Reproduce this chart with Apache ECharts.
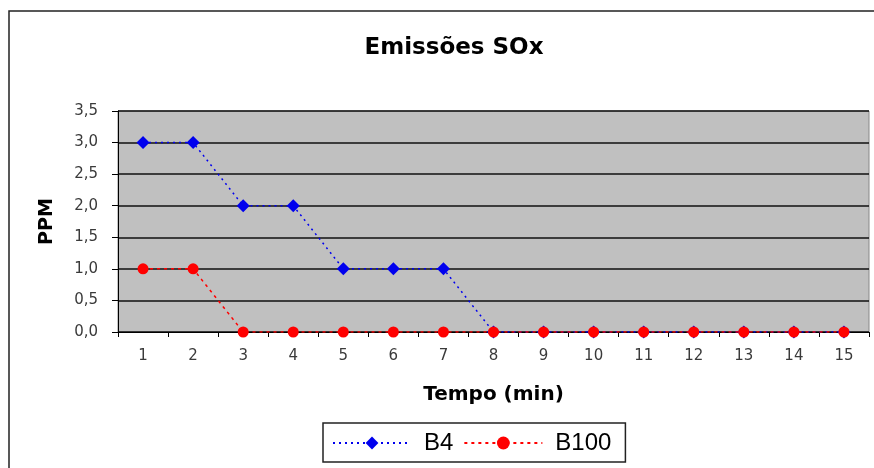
<!DOCTYPE html>
<html><head><meta charset="utf-8">
<script src="https://cdn.jsdelivr.net/npm/echarts@6/dist/echarts.min.js"></script>
<style>html,body{margin:0;padding:0;background:#fff}#c{width:874px;height:468px}</style>
</head><body><div id="c"></div>
<script>
const categories = ['1','2','3','4','5','6','7','8','9','10','11','12','13','14','15'];
const b4 = [3,3,2,2,1,1,1,0,0,0,0,0,0,0,0];
const b100 = [1,1,0,0,0,0,0,0,0,0,0,0,0,0,0];
const yTicks = [0,0.5,1,1.5,2,2.5,3,3.5];

const chart = echarts.init(document.getElementById('c'));
chart.setOption({
  animation: false,
  backgroundColor: '#fff',
  title: {
    text: 'Emissões SOx', left: 449, top: 32, textAlign: 'center',
    textStyle: {fontFamily: 'DejaVu Sans', fontSize: 23, fontWeight: 'bold', color: '#000'}
  },
  graphic: [{
    type: 'rect', shape: {x: 9, y: 11, width: 900, height: 500},
    style: {fill: null, stroke: '#222', lineWidth: 1.5}, silent: true, z: -1
  }],
  legend: {
    left: 323, top: 423, width: 310,
    padding: [8, 14, 7, 9],
    itemGap: 10, itemWidth: 78, itemHeight: 16,
    borderColor: '#222', borderWidth: 1.5,
    textStyle: {fontFamily: 'Liberation Sans, Arial', fontSize: 24, color: '#000', padding: [0, 0, 0, 8]},
    data: ['B4', 'B100']
  },
  grid: {left: 118, right: 5, top: 111, bottom: 136, show: true, backgroundColor: '#c0c0c0', borderColor: '#888', borderWidth: 1},
  xAxis: {
    type: 'category', data: categories, boundaryGap: true,
    name: 'Tempo (min)', nameLocation: 'middle', nameGap: 53,
    nameTextStyle: {fontFamily: 'DejaVu Sans', fontSize: 20, fontWeight: 'bold', color: '#000'},
    axisLine: {lineStyle: {color: '#000', width: 1}},
    axisTick: {show: true, length: 5, inside: false, lineStyle: {color: '#000'}},
    axisLabel: {fontFamily: 'DejaVu Sans', fontSize: 15, color: '#3a3a3a', margin: 17}
  },
  yAxis: {
    type: 'value', min: 0, max: 3.5, interval: 0.5,
    name: 'PPM', nameLocation: 'middle', nameGap: 61, nameRotate: 90,
    nameTextStyle: {fontFamily: 'DejaVu Sans', fontSize: 19, fontWeight: 'bold', color: '#000'},
    axisLine: {show: true, lineStyle: {color: '#000', width: 1}},
    axisTick: {show: true, length: 6, lineStyle: {color: '#000'}},
    axisLabel: {fontFamily: 'DejaVu Sans', fontSize: 15, color: '#3a3a3a', margin: 20,
      formatter: v => v.toFixed(1).replace('.', ',')},
    splitLine: {lineStyle: {color: '#111', width: 1.5}}
  },
  series: [
    {name: 'B4', type: 'line', data: b4, symbol: 'diamond', symbolSize: 13,
      itemStyle: {color: '#0000ee'}, lineStyle: {color: '#0000ee', width: 1.5, type: [2, 4]}, z: 3},
    {name: 'B100', type: 'line', data: b100, symbol: 'circle', symbolSize: 11,
      itemStyle: {color: '#ff0000'}, lineStyle: {color: '#ff0000', width: 1.5, type: [3, 4]}, z: 4}
  ]
});
</script></body></html>
